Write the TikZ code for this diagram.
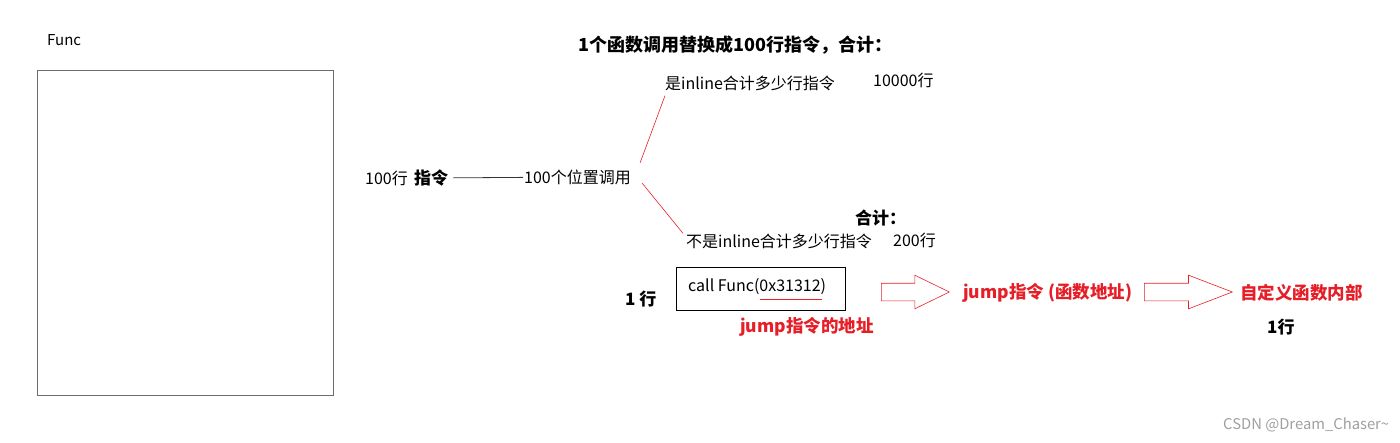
\documentclass[tikz,border=0pt]{standalone}
\usepackage{fontspec}
\setmainfont{Noto Sans CJK SC}
\usepackage{xcolor}
\usetikzlibrary{shapes.arrows}
\definecolor{hotred}{RGB}{230,30,40}

\begin{document}
\begin{tikzpicture}[x=1pt,y=-1pt,
  txt/.style={anchor=west,inner sep=1pt,font=\fontsize{16}{19}\selectfont},
  btxt/.style={txt,font=\fontsize{17}{20}\selectfont\bfseries},
  rtxt/.style={txt,font=\fontsize{17.5}{21}\selectfont\bfseries,text=hotred},
  redline/.style={draw=hotred,line width=0.6pt},
  harrow/.style={single arrow,anchor=tail,draw=hotred,line width=0.6pt,inner xsep=0pt,inner ysep=8.5pt,single arrow head extend=8pt}]
\useasboundingbox (0,0) rectangle (1400,442);
\node[txt,font=\fontsize{15}{18}\selectfont] (func) at (46,40) {Func};
\node[draw=gray!85!black,line width=0.7pt,anchor=north west,minimum width=296pt,minimum height=325pt] (funcbox) at (37,70) {};
\node[txt] (lines) at (364,178) {100行};
\node[btxt] (instr) at (413,178) {指令};
\node[txt] (calls) at (523,177) {100个位置调用};
\draw[gray!40!black,line width=0.8pt,shorten <=4pt] (instr) -- (calls);
\node[txt,font=\fontsize{18}{21}\selectfont\bfseries] (title) at (577,45) {1个函数调用替换成100行指令，合计：};
\node[txt] (yes) at (664,83) {是inline合计多少行指令};
\node[txt] (yessum) at (872,80) {10000行};
\node[btxt] (nosumlbl) at (854,218) {合计：};
\node[txt] (no) at (685,241) {不是inline合计多少行指令};
\node[txt] (nosum) at (892,240) {200行};
\draw[redline] ([xshift=8pt,yshift=14pt]calls.east) -- ([xshift=1pt,yshift=-4pt]yes.south west);
\draw[redline] ([xshift=10pt,yshift=-6pt]calls.east) -- ([xshift=-2pt,yshift=-1pt]no.north west);
\node[draw=black,line width=0.8pt,anchor=north west,minimum width=169pt,minimum height=43pt] (callbox) at (676,267) {};
\node[txt] (call) at (687,287) {call Func(0x31312)};
\draw[redline] (760,299) -- (822,299);
\node[btxt] (one) at (624,299) {1 行};
\node[rtxt] (jaddr) at (739,327) {jump指令的地址};
\node[harrow,minimum height=68pt,single arrow tip angle=52] (arr1) at (881,292) {};
\node[rtxt] (jump) at (962,293) {jump指令 (函数地址)};
\node[harrow,minimum height=88pt,single arrow tip angle=42] (arr2) at (1144,292) {};
\node[rtxt] (inside) at (1239,293) {自定义函数内部};
\node[btxt] (oneline) at (1266,327) {1行};
\node[txt,text=gray!75,font=\fontsize{14.8}{17}\selectfont] (mark) at (1222,425) {CSDN @Dream\_Chaser\textasciitilde};
\end{tikzpicture}
\end{document}
